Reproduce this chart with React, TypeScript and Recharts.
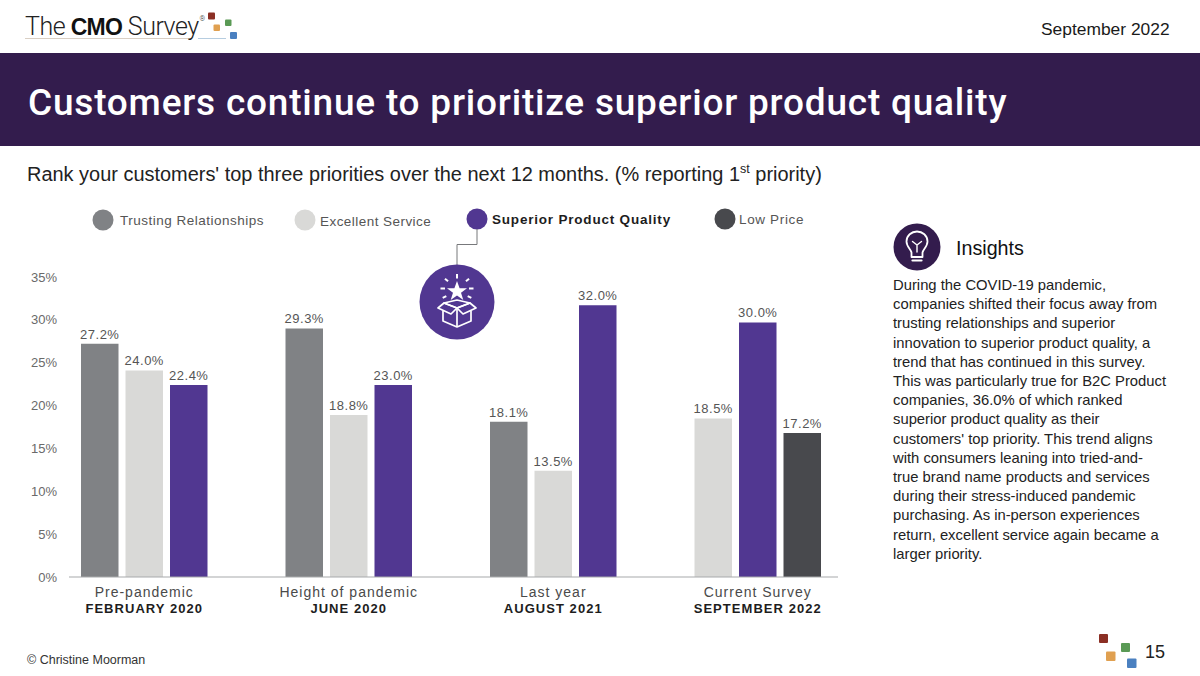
import React from "react";
import { BarChart, Bar, XAxis, YAxis, Cell, LabelList } from "recharts";

const categories = ["Pre-pandemic", "Height of pandemic", "Last year", "Current Survey"];
const periods = ["FEBRUARY 2020", "JUNE 2020", "AUGUST 2021", "SEPTEMBER 2022"];
const yTicks = [0, 5, 10, 15, 20, 25, 30, 35];

// Bar heights as drawn in the picture, and the values printed above the bars
const trustingDrawn = [27.2, 29.0, 18.1, null];
const excellentDrawn = [24.1, 18.9, 12.4, 18.5];
const superiorDrawn = [22.4, 22.4, 31.7, 29.7];
const lowDrawn = [null, null, null, 16.8];
const trustingPrinted = [27.2, 29.3, 18.1, null];
const excellentPrinted = [24.0, 18.8, 13.5, 18.5];
const superiorPrinted = [22.4, 23.0, 32.0, 30.0];
const lowPrinted = [null, null, null, 17.2];

const GRAY = "#808285";
const LIGHT = "#d9d9d7";
const PURPLE = "#513791";
const DARK = "#48494d";
const NAVY = "#331c4d";

const series = [
  { name: "Trusting Relationships", color: GRAY, drawn: trustingDrawn, printed: trustingPrinted },
  { name: "Excellent Service", color: LIGHT, drawn: excellentDrawn, printed: excellentPrinted },
  { name: "Superior Product Quality", color: PURPLE, drawn: superiorDrawn, printed: superiorPrinted },
  { name: "Low Price", color: DARK, drawn: lowDrawn, printed: lowPrinted },
];

const insightLines = [
  "During the COVID-19 pandemic,",
  "companies shifted their focus away from",
  "trusting relationships and superior",
  "innovation to superior product quality, a",
  "trend that has continued in this survey.",
  "This was particularly true for B2C Product",
  "companies, 36.0% of which ranked",
  "superior product quality as their",
  "customers' top priority. This trend aligns",
  "with consumers leaning into tried-and-",
  "true brand name products and services",
  "during their stress-induced pandemic",
  "purchasing. As in-person experiences",
  "return, excellent service again became a",
  "larger priority.",
];

const rows = categories.map((category, i) => {
  const present = series.filter((s) => s.drawn[i] != null);
  const row: any = { category, period: periods[i], colors: present.map((s) => s.color) };
  present.forEach((s, k) => {
    row[`v${k}`] = s.drawn[i];
    row[`p${k}`] = s.printed[i];
  });
  return row;
});

const SANS = "'Liberation Sans', Arial, sans-serif";

const CategoryTick = (props: any) => {
  const { x, y, index } = props;
  return (
    <g>
      <text x={x} y={y + 12} textAnchor="middle" fontFamily={SANS} fontSize={14} letterSpacing={1.0} fill="#4a4a4a">
        {categories[index]}
      </text>
      <text x={x} y={y + 28} textAnchor="middle" fontFamily={SANS} fontSize={13} fontWeight={700} letterSpacing={1.05} fill="#1d1d1d">
        {periods[index]}
      </text>
    </g>
  );
};

const abs = (left: number, top: number, extra: any = {}): any => ({
  position: "absolute",
  left,
  top,
  whiteSpace: "nowrap",
  fontFamily: SANS,
  ...extra,
});

const legendPos = [
  { cx: 103, cy: 220, tx: 120, ty: 212, ls: 0.5 },
  { cx: 305, cy: 220, tx: 320, ty: 213, ls: 0.45 },
  { cx: 477, cy: 219, tx: 492, ty: 211, ls: 0.8 },
  { cx: 725, cy: 219, tx: 739, ty: 211, ls: 0.65 },
];

const Square = ({ x, y, s, c }: any) => <rect x={x} y={y} width={s} height={s} rx={1} fill={c} />;

export default function App() {
  return (
    <div style={{ position: "absolute", left: 0, top: 0, width: 1200, height: 676, background: "#fff", overflow: "hidden" }}>
      <svg width={1200} height={676} style={{ position: "absolute", left: 0, top: 0 }}>
        <rect x={0} y={53} width={1200} height={93} fill={NAVY} />
        {/* logo marks */}
        <line x1={25} y1={38.5} x2={190} y2={38.5} stroke="#d9cfc4" strokeWidth={1} />
        <line x1={198} y1={38.5} x2={226} y2={38.5} stroke="#b6cde0" strokeWidth={1} />
        <Square x={208} y={12.5} s={7} c="#8b2f24" />
        <Square x={213.5} y={24.5} s={6.5} c="#e0a050" />
        <Square x={225} y={19.5} s={6.5} c="#5a9a55" />
        <Square x={230} y={32} s={7} c="#4a80c0" />
        {/* footer marks */}
        <Square x={1099} y={634} s={9} c="#8b2f24" />
        <Square x={1106} y={651.5} s={9.5} c="#e0a050" />
        <Square x={1121} y={643} s={9} c="#5a9a55" />
        <Square x={1127} y={658.5} s={9.5} c="#4a80c0" />
        {/* legend dots */}
        {series.map((s, i) => (
          <circle key={s.name} cx={legendPos[i].cx} cy={legendPos[i].cy} r={10.5} fill={s.color} />
        ))}
        {/* connector and badge */}
        <polyline points="477,229 477,244.5 457,244.5 457,266" fill="none" stroke="#77787b" strokeWidth={1} />
        <circle cx={457} cy={302} r={37.5} fill={PURPLE} />
        <g fill="#fff" stroke="none">
          <polygon points="457,281 459.6,288.2 467,288.2 461,292.8 463.3,300 457,295.6 450.7,300 453,292.8 447,288.2 454.4,288.2" />
          <rect x={456} y={274} width={2} height={4.5} />
          <rect x={445.5} y={278} width={2} height={4} transform="rotate(-50 446.5 280)" />
          <rect x={466.5} y={278} width={2} height={4} transform="rotate(50 467.5 280)" />
          <rect x={440.5} y={287.5} width={4.5} height={2} />
          <rect x={469} y={287.5} width={4.5} height={2} />
          <rect x={442.5} y={296} width={4} height={2} transform="rotate(-25 444.5 297)" />
          <rect x={467.5} y={296} width={4} height={2} transform="rotate(25 469.5 297)" />
        </g>
        <g fill="none" stroke="#fff" strokeWidth={1.7} strokeLinejoin="round">
          <polygon points="457,308 470,303 476,308 463,314" />
          <polygon points="457,308 444,303 438,308 451,314" />
          <polygon points="444,303 457,300 470,303 457,308" />
          <polyline points="443,311 443,321 457,327 471,321 471,311" />
          <line x1={457} y1={308} x2={457} y2={327} />
        </g>
        {/* insights badge */}
        <circle cx={917} cy={247} r={23.5} fill={NAVY} />
        <g fill="none" stroke="#fff" strokeWidth={1.8} strokeLinejoin="round" strokeLinecap="round">
          <path d="M911.5,257 L911.5,252.5 C911,249.5 906.5,246.5 906.5,241.5 C906.5,235.5 911.5,231.5 917,231.5 C922.5,231.5 927.5,235.5 927.5,241.5 C927.5,246.5 923,249.5 922.5,252.5 L922.5,257 Z" />
          <path d="M912.5,241.5 L917,245 L921.5,241.5 M917,245 L917,252" strokeWidth={1.4} />
          <path d="M912.5,260.5 L921.5,260.5" strokeWidth={2.2} />
        </g>
      </svg>

      <div style={abs(25, 13, { fontFamily: "Roboto, sans-serif", fontWeight: 300, fontSize: 25, letterSpacing: -0.5, color: "#222", lineHeight: "28px" })}>
        The <span style={{ fontFamily: SANS, fontWeight: 700, fontSize: 23, letterSpacing: -0.7, color: "#111" }}>CMO</span> Survey
        <sup style={{ fontSize: 7, letterSpacing: 0, verticalAlign: "top", lineHeight: "12px", marginLeft: 1 }}>®</sup>
      </div>
      <div style={abs(1041, 19, { fontSize: 17.4, color: "#1a1a1a", lineHeight: "20px" })}>September 2022</div>
      <div style={abs(28, 80, { fontFamily: "Roboto, sans-serif", fontWeight: 500, fontSize: 37, letterSpacing: 0.79, color: "#fff", lineHeight: "46px" })}>
        Customers continue to prioritize superior product quality
      </div>
      <div style={abs(27, 162, { fontSize: 19.95, color: "#222", lineHeight: "24px" })}>
        Rank your customers' top three priorities over the next 12 months. (% reporting 1
        <sup style={{ fontSize: 12.5, lineHeight: 0 }}>st</sup> priority)
      </div>

      {series.map((s, i) => (
        <div
          key={s.name}
          style={abs(legendPos[i].tx, legendPos[i].ty, {
            fontSize: 13.5,
            lineHeight: "17px",
            letterSpacing: legendPos[i].ls,
            fontWeight: i === 2 ? 700 : 400,
            color: i === 2 ? "#1d1d1d" : "#555",
          })}
        >
          {s.name}
        </div>
      ))}

      <div style={{ position: "absolute", left: 0, top: 0 }}>
        <BarChart
          width={1200}
          height={676}
          data={rows}
          margin={{ top: 277, right: 362, bottom: 0, left: 0 }}
          barGap={7}
          barSize={37.5}
        >
          <XAxis
            dataKey="category"
            padding={{ left: -27, right: -22 }}
            tickLine={false}
            axisLine={{ stroke: "#a7a9ac", strokeWidth: 1.2 }}
            tick={<CategoryTick />}
            interval={0}
            height={99}
          />
          <YAxis
            domain={[0, 35]}
            ticks={yTicks}
            width={69}
            axisLine={false}
            tickLine={false}
            tickSize={0}
            tickMargin={12}
            tickFormatter={(v: number) => `${v}%`}
            tick={{ fontFamily: SANS, fontSize: 13, fill: "#6a6a6a" }}
          />
          {[0, 1, 2].map((k) => (
            <Bar key={k} dataKey={`v${k}`} isAnimationActive={false}>
              {rows.map((r, i) => (
                <Cell key={i} fill={r.colors[k]} />
              ))}
              <LabelList
                dataKey={`p${k}`}
                position="top"
                offset={5}
                formatter={(v: number) => `${v.toFixed(1)}%`}
                style={{ fontFamily: SANS, fontSize: 13, fill: "#555", letterSpacing: 0.5 }}
              />
            </Bar>
          ))}
        </BarChart>
      </div>

      <div style={abs(956, 236, { fontSize: 19.7, color: "#111", lineHeight: "24px" })}>Insights</div>
      {insightLines.map((line, i) => (
        <div key={i} style={abs(893, 276 + i * 19.2, { fontSize: 14.8, lineHeight: "19px", color: "#222" })}>
          {line}
        </div>
      ))}
      <div style={abs(27, 653, { fontSize: 12.5, color: "#333", lineHeight: "15px" })}>© Christine Moorman</div>
      <div style={abs(1145, 641, { fontSize: 18, color: "#222", lineHeight: "22px" })}>15</div>
    </div>
  );
}
